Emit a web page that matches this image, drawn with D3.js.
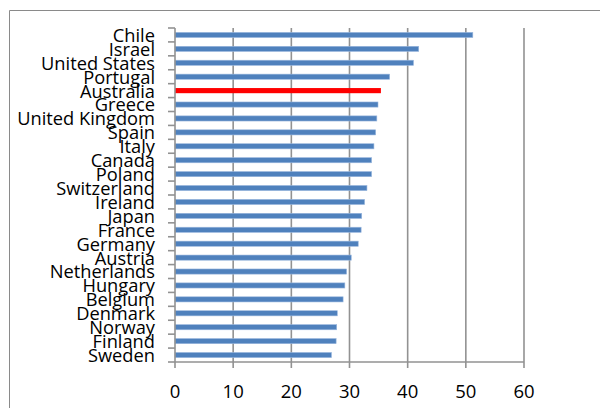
<!DOCTYPE html>
<html><head><meta charset="utf-8">
<script src="https://cdn.jsdelivr.net/npm/d3@7"></script>
<style>html,body{margin:0;padding:0;background:#fff;}svg{display:block;}</style>
</head><body>
<script>
const countries = ["Chile","Israel","United States","Portugal","Australia","Greece","United Kingdom","Spain","Italy","Canada","Poland","Switzerland","Ireland","Japan","France","Germany","Austria","Netherlands","Hungary","Belgium","Denmark","Norway","Finland","Sweden"];
const values = [51.2,41.9,41.0,36.9,35.4,34.9,34.7,34.5,34.2,33.8,33.8,33.0,32.6,32.1,32.0,31.5,30.3,29.5,29.2,28.9,27.9,27.8,27.7,26.9];
const highlight = ["Australia"];
const xTicks = [0,10,20,30,40,50,60];

(function(){
const W = 600, H = 408;
const svg = d3.select("body").append("svg").attr("width", W).attr("height", H);
const font = "'Open Sans', 'DejaVu Sans', sans-serif";

// frame
svg.append("path").attr("d", `M9.5,${H} V10.5 H${W}`).attr("fill","none").attr("stroke","#8a8a8a").attr("stroke-width",1);

const pl = 175, pr = 524, pt = 28, pb = 362;
const x = d3.scaleLinear().domain([0,60]).range([pl,pr]);
const y = d3.scaleBand().domain(countries).range([pt,pb]).paddingInner(0.63).paddingOuter(0.315);
const yb = d3.scaleBand().domain(countries).range([pt,pb]);

// gridlines
svg.append("g").selectAll("line").data(xTicks.slice(1)).join("line")
  .attr("x1", d=>x(d)).attr("x2", d=>x(d)).attr("y1", pt).attr("y2", pb+6)
  .attr("stroke","#929292").attr("stroke-width",1.6);

// bars
svg.append("g").selectAll("rect").data(countries).join("rect")
  .attr("x", x(0)).attr("y", d=>y(d)).attr("height", y.bandwidth())
  .attr("width", (d,i)=>x(values[i])-x(0))
  .attr("fill", d=>highlight.includes(d)?"#FF0000":"#4F81BD")
  .attr("stroke", d=>highlight.includes(d)?"none":"#9bb8de").attr("stroke-width",0.6);

// axis lines
svg.append("line").attr("x1",pl).attr("x2",pr).attr("y1",pb).attr("y2",pb).attr("stroke","#929292").attr("stroke-width",1.6);
svg.append("line").attr("x1",pl).attr("x2",pl).attr("y1",pt).attr("y2",pb+6).attr("stroke","#929292").attr("stroke-width",1.6);
// y ticks at band boundaries
const bounds = countries.map(c=>yb(c)).concat([pb]);
svg.append("g").selectAll("line").data(bounds).join("line")
  .attr("x1",pl-7).attr("x2",pl).attr("y1",d=>d).attr("y2",d=>d)
  .attr("stroke","#929292").attr("stroke-width",1.6);

// x tick labels
svg.append("g").selectAll("text").data(xTicks).join("text")
  .attr("x", d=>x(d)).attr("y", 397.5).attr("text-anchor","middle")
  .style("font-family",font).style("font-size","18.5px").attr("fill","#000").text(d=>d);

// y labels
const lab = svg.append("g").selectAll("text").data(countries).join("text")
  .attr("text-anchor","end").attr("dominant-baseline","central")
  .style("font-family",font).style("font-size","18px").attr("fill","#000").text(d=>d);
const uk = lab.filter(d=>d==="United Kingdom").node().getComputedTextLength();
const sx = 138/uk;
lab.attr("transform", d=>`translate(155,${yb(d)+yb.bandwidth()/2}) scale(${sx},1)`);
})();
</script>
</body></html>
